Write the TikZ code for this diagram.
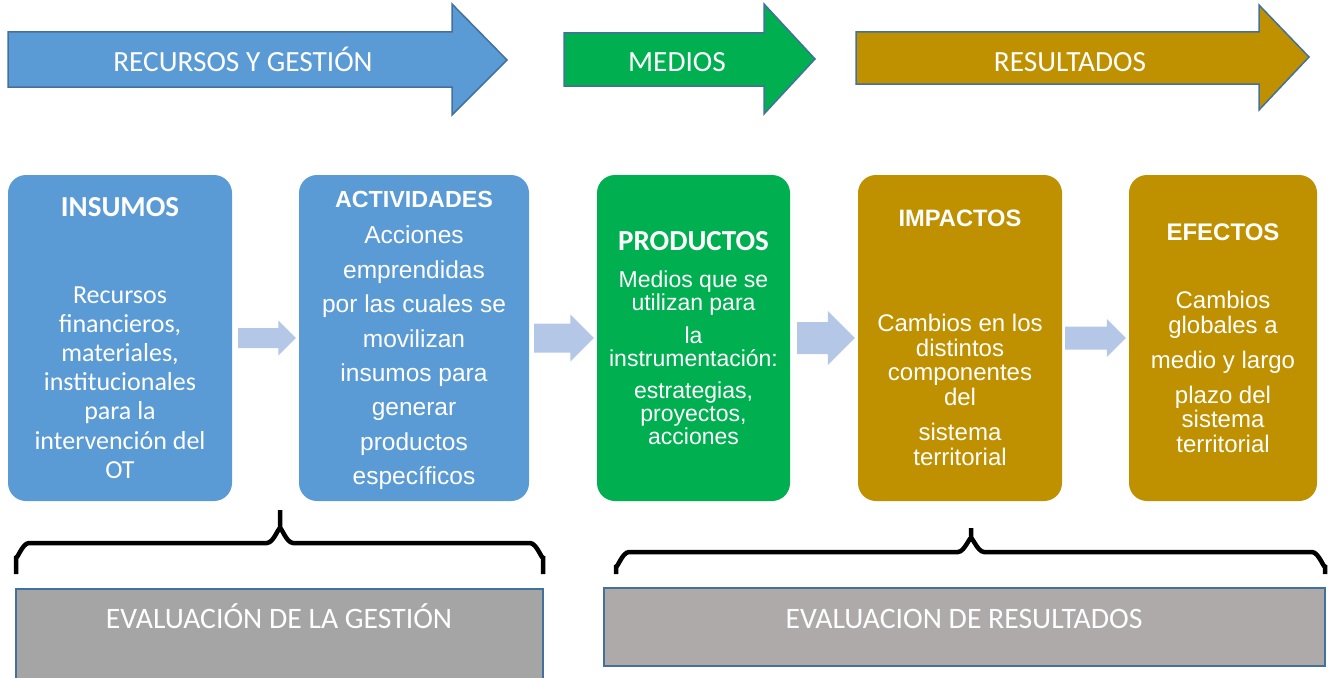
\documentclass[tikz,border=0pt]{standalone}
\usepackage{fontspec}
\setmainfont{Liberation Sans}
\newfontfamily\calibri{Carlito}
\usetikzlibrary{calc}

\definecolor{azul}{HTML}{5B9BD5}
\definecolor{verde}{HTML}{00B050}
\definecolor{ocre}{HTML}{BF9000}
\definecolor{borde}{HTML}{41719C}
\definecolor{celeste}{HTML}{B4C7E7}
\definecolor{grisA}{HTML}{A5A5A5}
\definecolor{grisB}{HTML}{AEAAAA}

% block arrow between two boxes: from, to, left gap, shaft half, head half
\newcommand{\flecha}[5]{%
  \fill[celeste] ($(#1.east)+(#3,-#4)$) -- ($(#2.west)+({-3-#5},-#4)$)
    -- ($(#2.west)+({-3-#5},-#5)$) -- ($(#2.west)+(-3,0)$)
    -- ($(#2.west)+({-3-#5},#5)$) -- ($(#2.west)+({-3-#5},#4)$)
    -- ($(#1.east)+(#3,#4)$) -- cycle;}

\begin{document}
\begin{tikzpicture}[x=1pt,y=-1pt,
			box node/.style={rectangle,rounded corners=18pt,minimum height=326pt,inner sep=0pt},
			title node/.style={text=white,inner sep=0pt},
			body node/.style={text=white,align=center,inner sep=0pt},
			band/.style={draw=borde,line width=1.5pt},
			band text/.style={text=white,inner sep=0pt,anchor=base,font=\calibri\fontsize{29.3}{31}\selectfont},
			eval text/.style={text=white,inner sep=0pt,anchor=base,font=\calibri\fontsize{29.7}{31}\selectfont},
			eval box/.style={draw=borde,line width=2.5pt},
			brace line/.style={line width=4.5pt}
			]
			
			\useasboundingbox (0,0) rectangle (1329,677);
			
			% top bands
			\draw[band,fill=azul] (8,32) -- (452,32) -- (452,4) -- (507,60) -- (452,115) -- (452,87) -- (8,87) -- cycle;
			\draw[band,fill=verde] (564,33) -- (764,33) -- (764,4) -- (815,59) -- (764,114) -- (764,86) -- (564,86) -- cycle;
			\draw[band,fill=ocre] (856,32) -- (1259,32) -- (1259,5) -- (1309,57) -- (1259,110) -- (1259,84) -- (856,84) -- cycle;
			\node[band text] (recursos) at (243,71) {RECURSOS Y GESTIÓN};
			\node[band text] (medios) at (677,71) {MEDIOS};
			\node[band text] (resultados) at (1070,71) {RESULTADOS};
			
			% boxes
			\node[box node,fill=azul,minimum width=224pt] (insumos) at (120,338) {};
			\node[box node,fill=azul,minimum width=230pt] (actividades) at (414,338) {};
			\node[box node,fill=verde,minimum width=193pt] (productos) at (693.5,338) {};
			\node[box node,fill=ocre,minimum width=204pt] (impactos) at (960,338) {};
			\node[box node,fill=ocre,minimum width=188pt] (efectos) at (1223,338) {};
			
			\node[title node,font=\calibri\bfseries\fontsize{29}{30}\selectfont] (insumosT) at (120,207) {INSUMOS};
			\node[body node,font=\calibri\fontsize{26}{29.2}\selectfont] (insumosB) at (120,382.5)
				{Recursos\\financieros,\\materiales,\\institucionales\\para la\\intervención del\\OT};
			
			\node[title node,font=\bfseries\fontsize{23.3}{26}\selectfont] (actividadesT) at (414,199) {ACTIVIDADES};
			\node[body node,font=\fontsize{24.5}{34.4}\selectfont] (actividadesB) at (414,358)
				{Acciones\\emprendidas\\por las cuales se\\movilizan\\insumos para\\generar\\productos\\específicos};
			
			\node[title node,font=\calibri\bfseries\fontsize{29}{30}\selectfont] (productosT) at (693.5,241) {PRODUCTOS};
			\node[body node,font=\fontsize{23}{23}\selectfont] (productosB) at (693.5,358)
				{Medios que se\\utilizan para\\[9.5pt]la\\instrumentación:\\[9.5pt]estrategias,\\proyectos,\\acciones};
			
			\node[title node,font=\bfseries\fontsize{23.7}{26}\selectfont] (impactosT) at (960,218) {IMPACTOS};
			\node[body node,font=\fontsize{24}{24.5}\selectfont] (impactosB) at (960,390)
				{Cambios en los\\distintos\\componentes\\del\\[11pt]sistema\\territorial};
			
			\node[title node,font=\bfseries\fontsize{24}{26}\selectfont] (efectosT) at (1223,232) {EFECTOS};
			\node[body node,font=\fontsize{24}{24.5}\selectfont] (efectosB) at (1223,372)
				{Cambios\\globales a\\[10.5pt]medio y largo\\[10.5pt]plazo del\\sistema\\territorial};
			
			% arrows between boxes
			\flecha{insumos}{actividades}{6}{10}{17.5}
			\flecha{actividades}{productos}{5}{14.5}{23.5}
			\flecha{productos}{impactos}{7}{16}{27}
			\flecha{impactos}{efectos}{3}{11.5}{19}
			
			% braces
			\draw[brace line] (16,574) -- (16,556) to[out=-90,in=180] (29,543) -- (267,543) to[out=0,in=90] (280,530) -- (280,510);
			\draw[brace line] (543,574) -- (543,556) to[out=-90,in=0] (530,543) -- (293,543) to[out=180,in=90] (280,530);
			\draw[brace line] (616,574) -- (616,565) to[out=-90,in=180] (629,552) -- (958,552) to[out=0,in=90] (971,540) -- (971,528);
			\draw[brace line] (1325,574) -- (1325,565) to[out=-90,in=0] (1312,552) -- (984,552) to[out=180,in=90] (971,540);
			
			% evaluation boxes
			\draw[eval box,fill=grisA] (16,589) rectangle (543,679);
			\draw[eval box,fill=grisB] (604,588) rectangle (1325,666);
			\node[eval text] (gestion) at (279,628) {EVALUACIÓN DE LA GESTIÓN};
			\node[eval text] (evalres) at (964,628) {EVALUACION DE RESULTADOS};
			
			\end{tikzpicture}
\end{document}
